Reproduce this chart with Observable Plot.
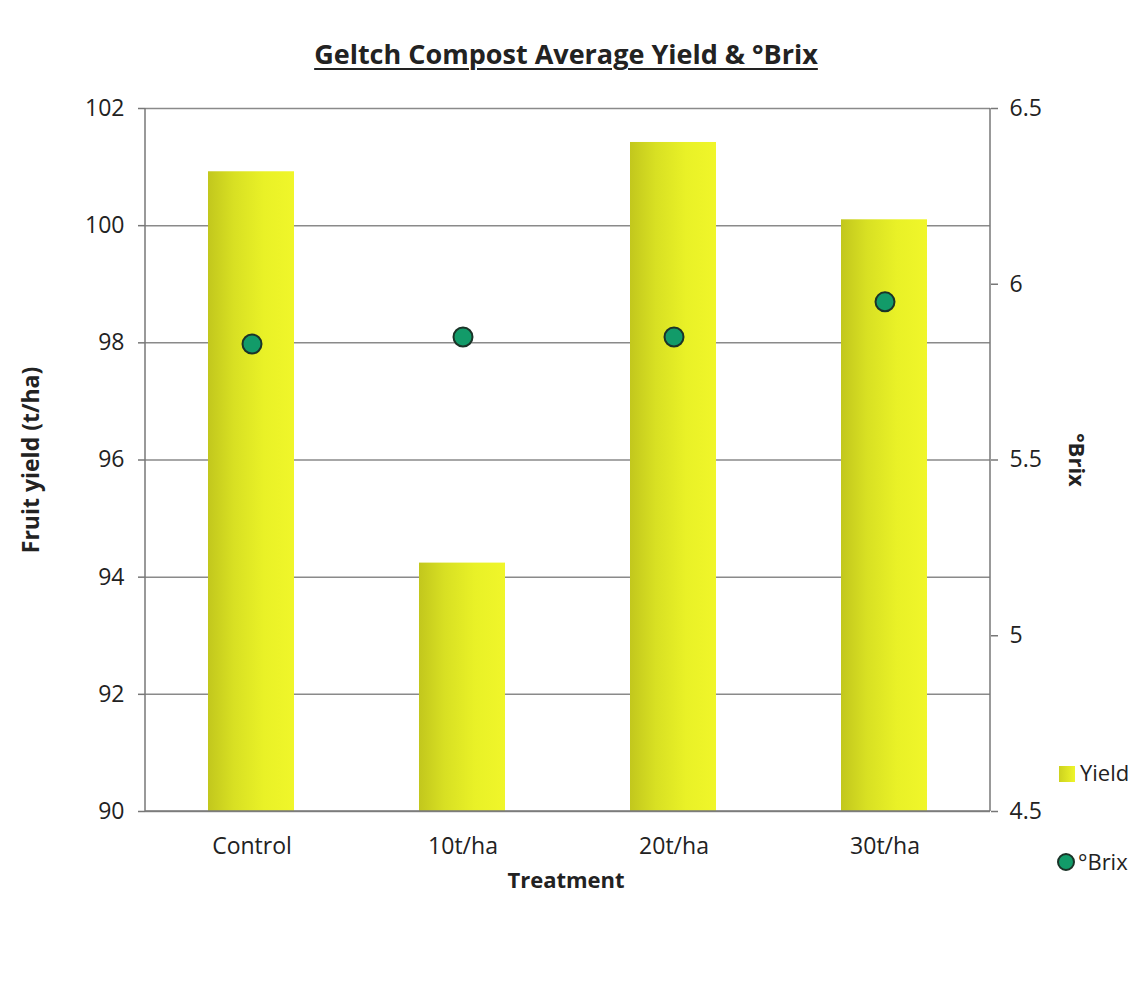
<!DOCTYPE html>
<html>
<head>
<meta charset="utf-8">
<script src="https://cdn.jsdelivr.net/npm/d3@7"></script>
<script src="https://cdn.jsdelivr.net/npm/@observablehq/plot@0.6"></script>
<style>
  html, body { margin: 0; padding: 0; background: #fff; }
  body { width: 1137px; height: 981px; position: relative; overflow: hidden; font-family: "Open Sans", sans-serif; color: #222; }
  #title { position: absolute; left: 0; top: 0; width: 1137px; height: 80px; }
  #title span { position: absolute; left: 566px; top: 35px; transform: translateX(-50%); font-weight: bold; font-size: 27px; text-decoration: underline; text-decoration-thickness: 2px; text-underline-offset: 4px; white-space: nowrap; color: #222; }
  #chart { position: absolute; left: 0; top: 80px; }
  .leg { position: absolute; font-size: 22px; color: #222; }
  .sw { position: absolute; }
</style>
</head>
<body>
<div id="title"><span>Geltch Compost Average Yield &amp; °Brix</span></div>
<div id="chart"></div>
<div class="sw" style="left:1059px;top:766px;width:16px;height:16px;background:linear-gradient(90deg,#cdd21f,#eef52a);"></div>
<div class="leg" style="left:1080px;top:757px;">Yield</div>
<div class="sw" style="left:1057px;top:853px;width:14px;height:14px;border-radius:50%;background:#129b69;border:2px solid #1b3328;"></div>
<div class="leg" style="left:1078px;top:846px;">°Brix</div>
<script>
const treatments = ["Control", "10t/ha", "20t/ha", "30t/ha"];
const yieldValues = [100.92, 94.24, 101.42, 100.1];
const brixValues = [5.83, 5.85, 5.85, 5.95];
const yieldTicks = [90, 92, 94, 96, 98, 100, 102];
const brixTicks = [4.5, 5, 5.5, 6, 6.5];

// map brix (4.5..6.5) onto yield scale (90..102)
const toY = b => 90 + (b - 4.5) * 6;
const data = treatments.map((t, i) => ({treatment: t, yield: yieldValues[i], brix: brixValues[i]}));

const defs = () => {
  const svgNS = "http://www.w3.org/2000/svg";
  const d = document.createElementNS(svgNS, "defs");
  d.innerHTML = `<linearGradient id="barGrad" x1="0" x2="1" y1="0" y2="0">
    <stop offset="0" stop-color="#c2c71d"/>
    <stop offset="0.3" stop-color="#d8e023"/>
    <stop offset="0.65" stop-color="#e9f127"/>
    <stop offset="1" stop-color="#f0f62a"/>
  </linearGradient>`;
  return d;
};

const chart = Plot.plot({
  width: 1137,
  height: 901,
  marginLeft: 145,
  marginRight: 147,
  marginTop: 28,
  marginBottom: 170,
  style: {fontFamily: "Open Sans, sans-serif", fontSize: "23px", color: "#222", background: "transparent"},
  x: {domain: treatments, padding: 0, label: null},
  y: {domain: [90, 102], label: null},
  marks: [
    defs,
    Plot.ruleY(yieldTicks, {stroke: "#8a8a8a", strokeWidth: 1.5}),
    Plot.barY(data, {x: "treatment", y1: 90, y2: "yield", fill: "url(#barGrad)", insetLeft: 62, insetRight: 63}),
    Plot.axisY(yieldTicks, {anchor: "left", tickSize: 7, tickPadding: 14, stroke: "#777", strokeWidth: 1.5, fontSize: 23, tickFormat: d => d, label: null}),
    Plot.axisY(brixTicks.map(toY), {anchor: "right", tickSize: 7, tickPadding: 12, stroke: "#777", strokeWidth: 1.5, fontSize: 23, tickFormat: d => String(+(4.5 + (d - 90) / 6).toFixed(1)), label: null}),
    Plot.axisX({tickSize: 0, tickPadding: 26, fontSize: 23, label: null}),
    Plot.dot(data, {x: "treatment", y: d => toY(d.brix), r: 9.5, fill: "#129b69", stroke: "#1b3328", strokeWidth: 2}),
    Plot.text(["Fruit yield (t/ha)"], {frameAnchor: "left", textAnchor: "middle", dx: -114, rotate: -90, fontWeight: "bold", fontSize: 23, fill: "#222"}),
    Plot.text(["°Brix"], {frameAnchor: "right", textAnchor: "middle", dx: 86, rotate: 90, fontWeight: "bold", fontSize: 22, fill: "#222"}),
    Plot.text(["Treatment"], {frameAnchor: "bottom", textAnchor: "middle", dy: 76, dx: -2, fontWeight: "bold", fontSize: 22, fill: "#222"})
  ]
});

// axis lines
const root = chart.tagName.toLowerCase() === "svg" ? chart : chart.querySelector("svg");
const g = d3.select(root).append("g").attr("stroke", "#777").attr("stroke-width", 1.5);
g.append("line").attr("x1", 145).attr("x2", 145).attr("y1", 28).attr("y2", 731);
g.append("line").attr("x1", 990).attr("x2", 990).attr("y1", 28).attr("y2", 731);
g.append("line").attr("x1", 145).attr("x2", 990).attr("y1", 731).attr("y2", 731);
document.getElementById("chart").appendChild(chart);
</script>
</body>
</html>
